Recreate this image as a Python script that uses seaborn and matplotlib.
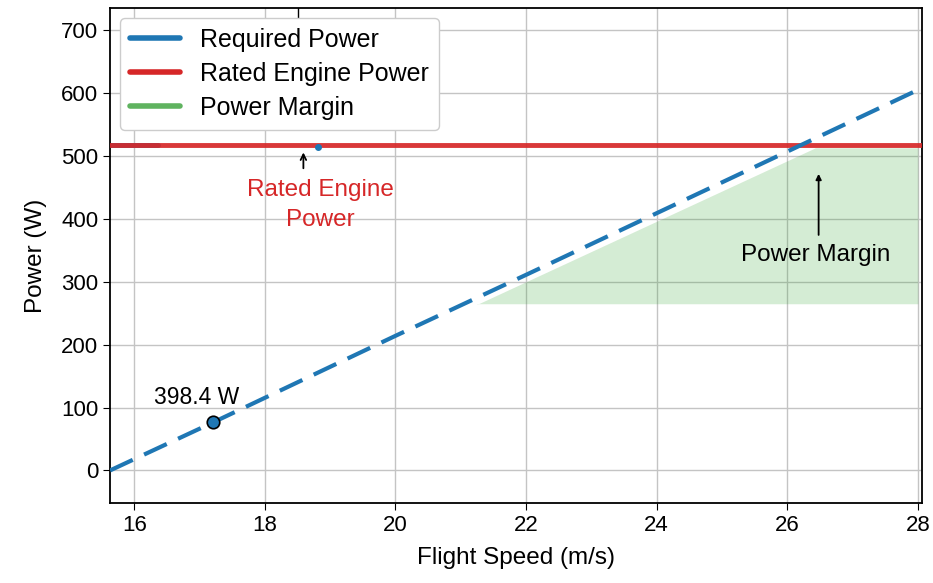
import numpy as np
import pandas as pd
import seaborn as sns
import matplotlib
matplotlib.use("Agg")
import matplotlib.pyplot as plt
from matplotlib.lines import Line2D

# datos
velocidad = [15.63, 17.2, 20.0, 22.0, 24.0, 26.0, 28.0]
potencia_req = [0, 76, 214, 311, 409, 507, 605]
potencia_motor = 517
punto_vel = 17.2
punto_pot = 77
margen_vel = [21.25, 26.43, 28.0]
margen_sup = [264, 513, 513]
margen_inf = [265, 265, 265]
xticks = [16, 18, 20, 22, 24, 26, 28]
yticks = [0, 100, 200, 300, 400, 500, 600, 700]

sns.set_style("whitegrid")
plt.rcParams['font.family'] = ['Liberation Sans', 'DejaVu Sans']
plt.rcParams['text.color'] = 'black'
plt.rcParams['axes.labelcolor'] = 'black'
plt.rcParams['xtick.color'] = 'black'
plt.rcParams['ytick.color'] = 'black'

fig, ax = plt.subplots(figsize=(9.33, 5.83), dpi=100)
fig.subplots_adjust(left=0.118, right=0.988, bottom=0.137, top=0.986)

df = pd.DataFrame({"v": velocidad, "p": potencia_req})

# margen de potencia
ax.fill_between(margen_vel, margen_inf, margen_sup, color="#2ca02c", alpha=0.2, lw=0)

# restos azules bajo la linea roja
ax.plot([15.63, 16.37], [potencia_motor, potencia_motor], color="#1f77b4", lw=3.5, zorder=2)
ax.plot([18.82], [potencia_motor - 3], marker="o", ms=4, color="#1f77b4", zorder=4)

ax.axhline(potencia_motor, color="#d62728", lw=3.5, alpha=0.92, zorder=3)
sns.lineplot(data=df, x="v", y="p", ax=ax, color="#1f77b4", lw=3, zorder=4)
ax.lines[-1].set_dashes([6, 3])

ax.plot([punto_vel], [punto_pot], marker="o", ms=9, color="#1f77b4",
        markeredgecolor="black", markeredgewidth=1.2, zorder=5)
ax.text(16.96, 98, "398.4 W", fontsize=16.5, ha="center", va="bottom")

ax.annotate("", xy=(18.59, 510), xytext=(18.59, 476),
            arrowprops=dict(arrowstyle="->", color="black", lw=1.3))
ax.text(18.85, 422, "Rated Engine\nPower", color="#d62728", fontsize=17.5,
        ha="center", va="center", linespacing=1.45)

ax.annotate("", xy=(26.48, 476), xytext=(26.48, 370),
            arrowprops=dict(arrowstyle="-|>", color="black", lw=1.3, mutation_scale=8))
ax.text(26.43, 342, "Power Margin", fontsize=17.5, ha="center", va="center")

ax.plot([18.51, 18.51], [735, 716], color="black", lw=1)

ax.set_xlim(15.63, 28.06)
ax.set_ylim(-52, 735)
ax.set_xticks(xticks)
ax.set_yticks(yticks)
ax.tick_params(labelsize=16, length=5, color="black", direction="out", bottom=True, left=True)
ax.set_xlabel("Flight Speed (m/s)", fontsize=17.5, labelpad=8)
ax.set_ylabel("Power (W)", fontsize=17.5, labelpad=10)
ax.grid(True, color="#c4c4c4", lw=1)
for s in ax.spines.values():
    s.set_color("black")
    s.set_linewidth(1.3)

handles = [Line2D([0], [0], color="#1f77b4", lw=4),
           Line2D([0], [0], color="#d62728", lw=4),
           Line2D([0], [0], color="#5fb35f", lw=4)]
ax.legend(handles, ["Required Power", "Rated Engine Power", "Power Margin"],
          loc="upper left", fontsize=18, frameon=True, framealpha=1,
          edgecolor="#cccccc", handlelength=2.0, borderaxespad=0.4,
          labelspacing=0.4)

fig.savefig("out.png", dpi=100)
